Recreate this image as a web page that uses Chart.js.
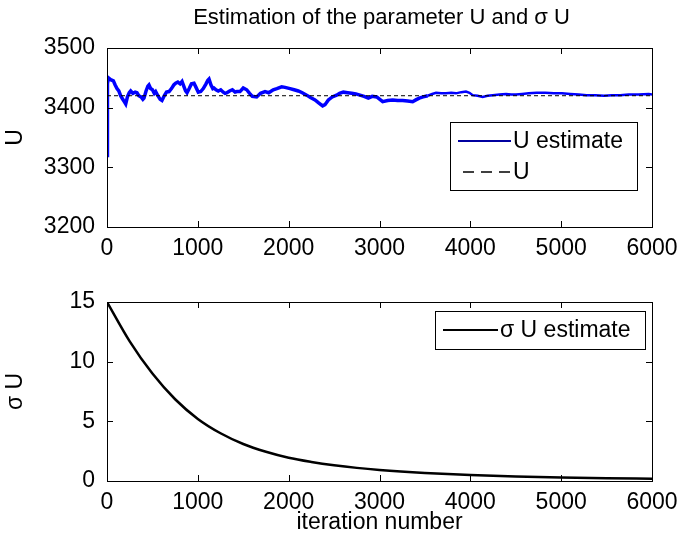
<!DOCTYPE html>
<html>
<head>
<meta charset="utf-8">
<script src="https://cdn.jsdelivr.net/npm/chart.js@4.4.1/dist/chart.umd.min.js"></script>
<style>
  html, body { margin: 0; padding: 0; background: #fff; }
  #wrap { position: relative; width: 683px; height: 539px; }
  canvas { position: absolute; left: 0; }
  #top-chart { top: 0; }
  #bottom-chart { top: 260px; }
</style>
</head>
<body>
<div id="wrap">
  <canvas id="top-chart" width="683" height="260"></canvas>
  <canvas id="bottom-chart" width="683" height="279"></canvas>
</div>
<script>
// dữ liệu
const titleText = "Estimation of the parameter U and \u03c3 U";

const uIter = [0, 5, 15, 40, 70, 90, 110, 130, 150, 170, 190, 206, 225, 245, 261, 285, 310, 330, 350, 375,
  395, 407, 430, 450, 462, 480, 500, 520, 536, 560, 585, 605, 630, 655, 683, 710, 735, 756, 780, 805,
  826, 845, 865, 881, 905, 930, 958, 980, 1005, 1032, 1060, 1090, 1110, 1123, 1145, 1165, 1178, 1200, 1225, 1252,
  1280, 1300, 1321, 1350, 1380, 1410, 1431, 1464, 1500, 1538, 1570, 1600, 1648, 1690, 1740, 1780, 1830, 1870, 1923, 1960,
  2015, 2060, 2106, 2150, 2198, 2240, 2290, 2330, 2374, 2400, 2437, 2480, 2528, 2560, 2602, 2650, 2694, 2740, 2785, 2830,
  2877, 2920, 2969, 3035, 3090, 3145, 3200, 3255, 3310, 3365, 3400, 3438, 3480, 3531, 3580, 3622, 3680, 3732, 3790, 3842,
  3900, 3952, 3990, 4026, 4080, 4136, 4190, 4246, 4320, 4393, 4450, 4503, 4570, 4643, 4730, 4826, 4920, 5010, 5100, 5193,
  5280, 5376, 5470, 5560, 5650, 5743, 5850, 5964, 6000];
const uEstimate = [3320, 3440, 3450, 3447, 3445, 3438, 3432, 3428, 3420, 3415, 3410, 3406, 3418, 3425, 3428, 3424, 3426, 3425, 3420, 3418,
  3414, 3416, 3428, 3436, 3438, 3432, 3430, 3424, 3427, 3420, 3414, 3412, 3420, 3426, 3427, 3432, 3438, 3441, 3443, 3440,
  3444, 3436, 3428, 3425, 3432, 3440, 3441, 3434, 3426, 3427, 3432, 3440, 3446, 3448, 3438, 3432, 3433, 3430, 3428, 3430,
  3426, 3424, 3425, 3428, 3430, 3426, 3427, 3427, 3433, 3430, 3424, 3419, 3418, 3424, 3427, 3425, 3430, 3432, 3435, 3434,
  3432, 3430, 3428, 3425, 3421, 3417, 3413, 3408, 3403, 3405, 3413, 3418, 3421, 3424, 3426, 3425, 3424, 3423, 3421, 3419,
  3416, 3419, 3418, 3410, 3412, 3413, 3412, 3412, 3411, 3410, 3413, 3416, 3418, 3420, 3423, 3425, 3424, 3424, 3425, 3424,
  3426, 3427, 3425, 3421, 3420, 3418, 3420, 3421, 3422, 3423, 3422, 3422, 3423, 3424, 3425, 3425, 3424, 3424, 3423, 3422,
  3421, 3421, 3420, 3421, 3421, 3422, 3422, 3423, 3422];

const uTrueIter = [0, 6000];
const uTrue = [3420, 3420];

const sigmaIter = [0, 250, 500, 750, 1000, 1250, 1500, 1750, 2000, 2250, 2500, 2750,
  3000, 3500, 4000, 4500, 5000, 5500, 6000];
const sigmaEstimate = [15, 11.7, 9.0, 6.85, 5.2, 4.0, 3.1, 2.45, 1.95, 1.6, 1.32, 1.1,
  0.93, 0.68, 0.5, 0.38, 0.29, 0.23, 0.19];

const xTicks = [0, 1000, 2000, 3000, 4000, 5000, 6000];
const uTicks = [3200, 3300, 3400, 3500];
const sigmaTicks = [0, 5, 10, 15];

const FONT = "'Liberation Sans', Arial, Helvetica, sans-serif";
Chart.defaults.font.family = FONT;
Chart.defaults.color = "#000";

function toPoints(xs, ys) {
  return xs.map((x, i) => ({ x: x, y: ys[i] }));
}

// khung và vạch chia hướng vào trong kiểu MATLAB
const boxPlugin = {
  id: "matlabBox",
  afterDatasetsDraw(chart) {
    const { ctx, chartArea: a, scales } = chart;
    const len = 6;
    ctx.save();
    ctx.strokeStyle = "#000";
    ctx.lineWidth = 1;
    ctx.beginPath();
    scales.x.ticks.forEach((t) => {
      const px = Math.round(scales.x.getPixelForValue(t.value)) + 0.5;
      ctx.moveTo(px, a.bottom);
      ctx.lineTo(px, a.bottom - len);
      ctx.moveTo(px, a.top);
      ctx.lineTo(px, a.top + len);
    });
    scales.y.ticks.forEach((t) => {
      const py = Math.round(scales.y.getPixelForValue(t.value)) + 0.5;
      ctx.moveTo(a.left, py);
      ctx.lineTo(a.left + len, py);
      ctx.moveTo(a.right, py);
      ctx.lineTo(a.right - len, py);
    });
    ctx.stroke();
    ctx.strokeRect(Math.round(a.left) + 0.5, Math.round(a.top) + 0.5,
      Math.round(a.right - a.left), Math.round(a.bottom - a.top));
    ctx.restore();
  },
};

// tiêu đề căn giữa vùng đồ thị
const plotTitlePlugin = {
  id: "plotTitle",
  afterDraw(chart, args, opts) {
    if (!opts || !opts.text) return;
    const { ctx, chartArea: a } = chart;
    ctx.save();
    ctx.font = opts.size + "px " + FONT;
    ctx.fillStyle = "#000";
    ctx.textAlign = "center";
    ctx.textBaseline = "middle";
    ctx.fillText(opts.text, (a.left + a.right) / 2 + 2, opts.y);
    ctx.restore();
  },
};

// chú thích vẽ bên trong vùng đồ thị
const legendPlugin = {
  id: "insideLegend",
  afterDraw(chart, args, opts) {
    if (!opts || !opts.items) return;
    const ctx = chart.ctx;
    ctx.save();
    ctx.fillStyle = "#fff";
    ctx.fillRect(opts.x, opts.y, opts.w, opts.h);
    ctx.strokeStyle = "#000";
    ctx.lineWidth = 1;
    ctx.strokeRect(opts.x + 0.5, opts.y + 0.5, opts.w, opts.h);
    ctx.font = "23px " + FONT;
    ctx.textBaseline = "middle";
    opts.items.forEach((it) => {
      ctx.beginPath();
      ctx.strokeStyle = it.color;
      ctx.lineWidth = it.width;
      ctx.setLineDash(it.dash || []);
      ctx.moveTo(it.x1, it.y);
      ctx.lineTo(it.x2, it.y);
      ctx.stroke();
      ctx.setLineDash([]);
      ctx.fillStyle = "#000";
      ctx.fillText(it.text, it.tx, it.y + 1);
    });
    ctx.restore();
  },
};

function fixWidth(w) {
  return function (scale) { scale.width = w; };
}
function fixHeight(h) {
  return function (scale) { scale.height = h; };
}

function xScale(height, withTitle) {
  return {
    type: "linear",
    min: 0,
    max: 6000,
    afterBuildTicks: (s) => { s.ticks = xTicks.map((v) => ({ value: v })); },
    grid: { display: false },
    border: { display: false },
    ticks: { font: { size: 23 }, padding: 0, maxRotation: 0, autoSkip: false, callback: (v) => String(v) },
    title: {
      display: withTitle,
      text: "iteration number",
      font: { size: 23 },
      padding: { top: 0, bottom: 3 },
    },
    afterFit: fixHeight(height),
  };
}

function yScale(min, max, ticks, label) {
  return {
    type: "linear",
    min: min,
    max: max,
    afterBuildTicks: (s) => { s.ticks = ticks.map((v) => ({ value: v })); },
    grid: { display: false },
    border: { display: false },
    ticks: { font: { size: 23 }, padding: 4, callback: (v) => String(v) },
    title: { display: true, text: label, font: { size: 23 }, padding: { top: 2, bottom: 0 } },
    afterFit: fixWidth(107),
  };
}

new Chart(document.getElementById("top-chart"), {
  type: "line",
  data: {
    datasets: [
      {
        label: "U",
        data: toPoints(uTrueIter, uTrue),
        borderColor: "#000",
        borderWidth: 1,
        borderDash: [4, 3],
      },
      {
        label: "U estimate",
        data: toPoints(uIter, uEstimate),
        borderColor: "#0000ff",
        borderWidth: 3,
        segment: {
          borderWidth: (c) => (c.p0.parsed.x < 3500 ? 3.5 : 2.5),
        },
      },
    ],
  },
  options: {
    responsive: false,
    animation: false,
    parsing: false,
    elements: { point: { radius: 0 }, line: { tension: 0 } },
    layout: { padding: { left: 0, right: 31, top: 48, bottom: 0 } },
    scales: {
      x: xScale(33, false),
      y: yScale(3200, 3500, uTicks, "U"),
    },
    plugins: {
      legend: { display: false },
      tooltip: { enabled: false },
      plotTitle: { text: titleText, size: 22, y: 18 },
      insideLegend: {
        x: 450, y: 122, w: 187, h: 68,
        items: [
          { text: "U estimate", color: "#0000a0", width: 2, x1: 458, x2: 511, tx: 513, y: 141 },
          { text: "U", color: "#000", width: 1.5, dash: [11, 7], x1: 463, x2: 511, tx: 513, y: 172 },
        ],
      },
    },
  },
  plugins: [boxPlugin, legendPlugin, plotTitlePlugin],
});

new Chart(document.getElementById("bottom-chart"), {
  type: "line",
  data: {
    datasets: [
      {
        label: "\u03c3 U estimate",
        data: toPoints(sigmaIter, sigmaEstimate),
        borderColor: "#000",
        borderWidth: 2.5,
        cubicInterpolationMode: "monotone",
      },
    ],
  },
  options: {
    responsive: false,
    animation: false,
    parsing: false,
    elements: { point: { radius: 0 } },
    layout: { padding: { left: 0, right: 31, top: 42, bottom: 0 } },
    scales: {
      x: xScale(58, true),
      y: yScale(0, 15, sigmaTicks, "\u03c3 U"),
    },
    plugins: {
      legend: { display: false },
      tooltip: { enabled: false },
      insideLegend: {
        x: 435, y: 51, w: 210, h: 38,
        items: [
          { text: "\u03c3 U estimate", color: "#000", width: 2, x1: 443, x2: 498, tx: 500, y: 70 },
        ],
      },
    },
  },
  plugins: [boxPlugin, legendPlugin],
});
</script>
</body>
</html>
